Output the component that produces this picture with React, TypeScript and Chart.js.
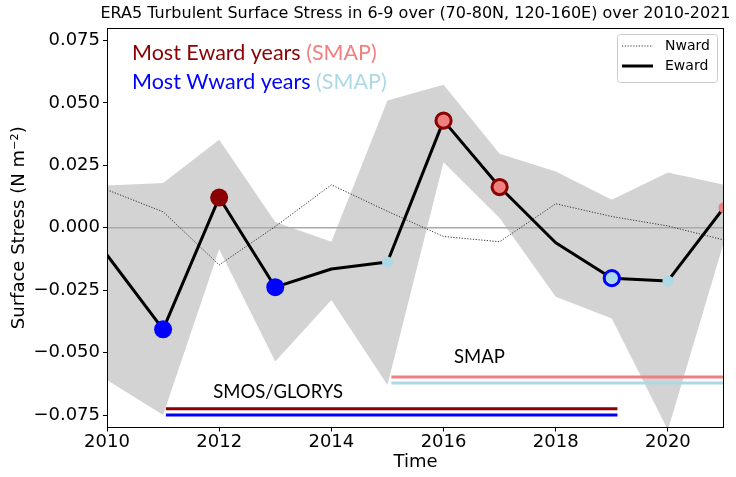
import React, { useEffect, useRef } from 'react';
import { Chart, registerables } from 'chart.js';

Chart.register(...registerables);

// ---------------- data ----------------
const years = [2010, 2011, 2012, 2013, 2014, 2015, 2016, 2017, 2018, 2019, 2020, 2021];
const eward = [-0.0109, -0.0407, 0.0121, -0.0238, -0.0165, -0.0137, 0.0429, 0.0163, -0.006, -0.0202, -0.0213, 0.0081];
const nward = [0.0152, 0.0064, -0.0149, 0.0005, 0.0172, 0.0066, -0.0035, -0.0056, 0.0096, 0.0045, 0.0007, -0.0049];
const bandUpper = [0.0169, 0.0179, 0.0352, 0.0023, -0.0056, 0.051, 0.0573, 0.0296, 0.0225, 0.0112, 0.0221, 0.0172];
const bandLower = [-0.061, -0.075, -0.0086, -0.0536, -0.0289, -0.063, 0.0262, 0.0039, -0.0276, -0.0363, -0.081, -0.0056];
// marker category for each Eward point:
// W = most Wward (SMOS), E = most Eward (SMOS), w = Wward (SMAP), e = Eward (SMAP)
const ewardMarkers = ['', 'W', 'E', 'W', '', 'w', 'Ee', 'Ee', '', 'Ww', 'w', 'e'];
const xTicks = [2010, 2012, 2014, 2016, 2018, 2020];
const yTicks = [-0.075, -0.05, -0.025, 0, 0.025, 0.05, 0.075];
const smosPeriod = [2011.05, 2019.1];
const smapPeriod = [2015.07, 2021];
const smosLevels = [-0.0725, -0.075]; // Eward, Wward
const smapLevels = [-0.0598, -0.0622]; // Eward, Wward

const TITLE = 'ERA5 Turbulent Surface Stress in 6-9 over (70-80N, 120-160E) over 2010-2021';

const DARKRED = '#8B0000';
const LIGHTCORAL = '#F08080';
const LIGHTBLUE = '#ADD8E6';
const BLUE = '#0000FF';

const markerStyle: Record<string, { bg: string; border: string; r: number; bw: number }> = {
  '': { bg: 'rgba(0,0,0,0)', border: 'rgba(0,0,0,0)', r: 0, bw: 0 },
  W: { bg: BLUE, border: BLUE, r: 9, bw: 0 },
  E: { bg: DARKRED, border: DARKRED, r: 9, bw: 0 },
  w: { bg: LIGHTBLUE, border: LIGHTBLUE, r: 5.5, bw: 0 },
  e: { bg: LIGHTCORAL, border: LIGHTCORAL, r: 5.5, bw: 0 },
  Ee: { bg: LIGHTCORAL, border: DARKRED, r: 7.6, bw: 3 },
  Ww: { bg: LIGHTBLUE, border: BLUE, r: 7.6, bw: 3 },
};

const pts = (vals: number[]) => years.map((y, i) => ({ x: y, y: vals[i] }));
const seg = (period: number[], level: number) => [
  { x: period[0], y: level },
  { x: period[1], y: level },
];

const fmtY = (v: number) => {
  if (Math.abs(v) < 1e-9) return '0.000';
  return (v < 0 ? '\u2212' : '') + Math.abs(v).toFixed(3);
};

const decorPlugin = {
  id: 'decor',
  afterDatasetsDraw(chart: any) {
    const { ctx, chartArea, scales } = chart;
    const xs = scales.x;
    const ys = scales.y;
    ctx.save();
    // frame
    ctx.strokeStyle = '#000';
    ctx.lineWidth = 1;
    ctx.strokeRect(
      Math.round(chartArea.left) + 0.5,
      Math.round(chartArea.top) + 0.5,
      Math.round(chartArea.right) - Math.round(chartArea.left) - 1,
      Math.round(chartArea.bottom) - Math.round(chartArea.top) - 1
    );

    // title
    ctx.fillStyle = '#000';
    ctx.textAlign = 'center';
    ctx.textBaseline = 'middle';
    ctx.font = '16px "DejaVu Sans"';
    ctx.fillText(TITLE, (chartArea.left + chartArea.right) / 2, 14);

    // annotation texts
    ctx.textAlign = 'left';
    ctx.font = '21.5px Lato';
    const x0 = chartArea.left + 25;
    ctx.fillStyle = DARKRED;
    ctx.fillText('Most Eward years ', x0, chartArea.top + 25);
    let w = ctx.measureText('Most Eward years ').width;
    ctx.fillStyle = LIGHTCORAL;
    ctx.fillText('(SMAP)', x0 + w, chartArea.top + 25);

    ctx.fillStyle = BLUE;
    ctx.fillText('Most Wward years ', x0, chartArea.top + 54);
    w = ctx.measureText('Most Wward years ').width;
    ctx.fillStyle = LIGHTBLUE;
    ctx.fillText('(SMAP)', x0 + w, chartArea.top + 54);

    ctx.textAlign = 'center';
    ctx.fillStyle = '#000';
    ctx.font = '18.5px Lato';
    ctx.fillText('SMOS/GLORYS', xs.getPixelForValue(2013.05), ys.getPixelForValue(-0.0657));
    ctx.fillText('SMAP', xs.getPixelForValue(2016.64), ys.getPixelForValue(-0.0516));

    // legend
    const lx = 617, ly = 34, lw = 100, lh = 48;
    ctx.fillStyle = 'rgba(255,255,255,0.8)';
    ctx.strokeStyle = '#cccccc';
    ctx.lineWidth = 1;
    ctx.beginPath();
    if (ctx.roundRect) ctx.roundRect(lx + 0.5, ly + 0.5, lw, lh, 3);
    else ctx.rect(lx + 0.5, ly + 0.5, lw, lh);
    ctx.fill();
    ctx.stroke();

    ctx.strokeStyle = '#333';
    ctx.lineWidth = 1;
    ctx.setLineDash([1.2, 1.6]);
    ctx.beginPath();
    ctx.moveTo(622, 46);
    ctx.lineTo(653, 46);
    ctx.stroke();
    ctx.setLineDash([]);
    ctx.strokeStyle = '#000';
    ctx.lineWidth = 3;
    ctx.beginPath();
    ctx.moveTo(622, 66);
    ctx.lineTo(653, 66);
    ctx.stroke();

    ctx.fillStyle = '#000';
    ctx.textAlign = 'left';
    ctx.font = '14px "DejaVu Sans"';
    ctx.fillText('Nward', 665, 46);
    ctx.fillText('Eward', 665, 66);
    ctx.restore();
  },
};

export default function App() {
  const ref = useRef<HTMLCanvasElement | null>(null);

  useEffect(() => {
    if (!ref.current) return;
    const chart = new Chart(ref.current, {
      type: 'line',
      data: {
        datasets: [
          {
            label: 'Eward',
            data: pts(eward),
            borderColor: '#000',
            borderWidth: 3,
            borderJoinStyle: 'round',
            pointRadius: ewardMarkers.map((m) => markerStyle[m].r),
            pointBackgroundColor: ewardMarkers.map((m) => markerStyle[m].bg),
            pointBorderColor: ewardMarkers.map((m) => markerStyle[m].border),
            pointBorderWidth: ewardMarkers.map((m) => markerStyle[m].bw),
            pointHoverRadius: 0,
            fill: false,
            clip: 0,
            order: 1,
          } as any,
          {
            label: 'Nward',
            data: pts(nward),
            borderColor: '#333',
            borderWidth: 1,
            borderDash: [1.2, 1.6],
            pointRadius: 0,
            fill: false,
            order: 2,
          },
          {
            label: 'SMOS Eward',
            data: seg(smosPeriod, smosLevels[0]),
            borderColor: DARKRED,
            borderWidth: 3,
            pointRadius: 0,
            fill: false,
            order: 3,
          },
          {
            label: 'SMOS Wward',
            data: seg(smosPeriod, smosLevels[1]),
            borderColor: BLUE,
            borderWidth: 3,
            pointRadius: 0,
            fill: false,
            order: 3,
          },
          {
            label: 'SMAP Eward',
            data: seg(smapPeriod, smapLevels[0]),
            borderColor: LIGHTCORAL,
            borderWidth: 3,
            pointRadius: 0,
            fill: false,
            order: 3,
          },
          {
            label: 'SMAP Wward',
            data: seg(smapPeriod, smapLevels[1]),
            borderColor: LIGHTBLUE,
            borderWidth: 3,
            pointRadius: 0,
            fill: false,
            order: 3,
          },
          {
            label: 'zero',
            data: seg([years[0], years[years.length - 1]], 0),
            borderColor: '#aaaaaa',
            borderWidth: 1.5,
            pointRadius: 0,
            fill: false,
            order: 4,
          },
          {
            label: 'upper',
            data: pts(bandUpper),
            borderColor: 'rgba(0,0,0,0)',
            borderWidth: 0,
            backgroundColor: '#D3D3D3',
            pointRadius: 0,
            fill: '+1',
            order: 5,
          },
          {
            label: 'lower',
            data: pts(bandLower),
            borderColor: 'rgba(0,0,0,0)',
            borderWidth: 0,
            pointRadius: 0,
            fill: false,
            order: 6,
          },
        ],
      },
      options: {
        animation: false,
        responsive: false,
        devicePixelRatio: 1,
        events: [],
        layout: { padding: { left: 0, right: 12, top: 28, bottom: 0 } },
        plugins: {
          legend: { display: false },
          tooltip: { enabled: false },
          title: { display: false },
        },
        scales: {
          x: {
            type: 'linear',
            min: years[0],
            max: years[years.length - 1],
            afterBuildTicks: (scale: any) => {
              scale.ticks = xTicks.map((v) => ({ value: v }));
            },
            afterFit: (scale: any) => {
              scale.height = 49.5;
            },
            ticks: {
              color: '#000',
              font: { family: 'DejaVu Sans', size: 18 },
              padding: 0,
              maxRotation: 0,
              autoSkip: false,
              callback: (v: any) => String(v),
            },
            grid: { drawOnChartArea: false, drawTicks: true, tickLength: 4, color: '#000' },
            border: { display: false },
            title: {
              display: true,
              text: 'Time',
              color: '#000',
              font: { family: 'DejaVu Sans', size: 18 },
              padding: { top: 0, bottom: 4 },
            },
          },
          y: {
            type: 'linear',
            min: -0.08,
            max: 0.08,
            afterBuildTicks: (scale: any) => {
              scale.ticks = yTicks.map((v) => ({ value: v }));
            },
            afterFit: (scale: any) => {
              scale.width = 107;
            },
            ticks: {
              color: '#000',
              font: { family: 'DejaVu Sans', size: 18 },
              padding: 3,
              autoSkip: false,
              callback: (v: any) => fmtY(Number(v)),
            },
            grid: { drawOnChartArea: false, drawTicks: true, tickLength: 4, color: '#000' },
            border: { display: false },
            title: {
              display: true,
              text: 'Surface Stress (N m\u207B\u00B2)',
              color: '#000',
              font: { family: 'DejaVu Sans', size: 18 },
              padding: { top: 9, bottom: 0 },
            },
          },
        },
      },
      plugins: [decorPlugin],
    } as any);
    return () => chart.destroy();
  }, []);

  return (
    <div style={{ position: 'absolute', left: 0, top: 0, width: 736, height: 477, background: '#fff' }}>
      <canvas ref={ref} width={736} height={477} />
    </div>
  );
}
